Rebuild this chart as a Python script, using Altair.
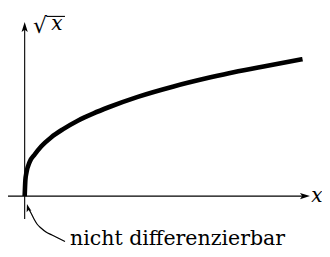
import altair as alt
import pandas as pd

# curve values (x units, y units)
curve_x = [0.0, 0.025, 0.06, 0.18, 0.36, 0.60, 0.96, 1.37, 1.91, 2.48, 3.02, 4.07, 5.36, 6.69, 7.52, 8.74, 10.0]
curve_y = [0.0, 0.37, 0.53, 0.79, 0.96, 1.15, 1.36, 1.54, 1.74, 1.91, 2.05, 2.29, 2.53, 2.74, 2.86, 3.01, 3.16]

# annotation pointer path
pointer_x = [0.120, 0.228, 0.336, 0.444, 0.587, 0.767, 0.983, 1.199, 1.451]
pointer_y = [-0.274, -0.389, -0.528, -0.643, -0.735, -0.827, -0.897, -0.966, -1.045]

# axes extents
xaxis_from, xaxis_to = -0.6, 10.087
yaxis_from, yaxis_to = -0.527, 3.902

# arrow heads
head_x = [10.087, 0.0, 0.120]
head_y = [0.0, 3.902, -0.271]
head_angle = [0, 270, 255]
head_size = [100, 100, 64]

# labels
label_text = ["x", "nicht differenzierbar"]
label_x = [10.52, 1.631]
label_y = [-0.135, -1.127]
label_align = ["center", "left"]
label_italic = ["italic", "normal"]
label_size = [20, 20.5]

XDOM = [-0.6, 10.7]
YDOM = [-1.22, 4.34]
FONT = "DejaVu Serif"

def X(field):
    return alt.X(field, type="quantitative", scale=alt.Scale(domain=XDOM, nice=False, zero=False), axis=None)

def Y(field):
    return alt.Y(field, type="quantitative", scale=alt.Scale(domain=YDOM, nice=False, zero=False), axis=None)

curve_df = pd.DataFrame({"x": curve_x, "y": curve_y})
pointer_df = pd.DataFrame({"x": pointer_x, "y": pointer_y})
axes_df = pd.DataFrame({
    "x": [xaxis_from, 0.0], "x2": [xaxis_to, 0.0],
    "y": [0.0, yaxis_from], "y2": [0.0, yaxis_to],
})
heads_df = pd.DataFrame({"x": head_x, "y": head_y, "angle": head_angle, "size": head_size})

ARROW = "M1,0 L-1,-0.62 L-0.55,0 L-1,0.62 Z"

curve = alt.Chart(curve_df).mark_line(
    color="black", strokeWidth=4.6, interpolate="monotone", strokeCap="butt"
).encode(x=X("x"), y=Y("y"), order="x:Q")

xaxis = alt.Chart(axes_df.iloc[[0]]).mark_rule(color="black", strokeWidth=1.1).encode(
    x=X("x"), x2="x2", y=Y("y"))
yaxis = alt.Chart(axes_df.iloc[[1]]).mark_rule(color="black", strokeWidth=1.1).encode(
    x=X("x"), y=Y("y"), y2="y2")

heads = alt.Chart(heads_df).mark_point(
    shape=ARROW, filled=True, color="black", opacity=1, strokeWidth=0
).encode(
    x=X("x"), y=Y("y"),
    angle=alt.Angle("angle:Q", scale=None),
    size=alt.Size("size:Q", scale=None, legend=None),
)

pointer = alt.Chart(pointer_df).mark_line(
    color="black", strokeWidth=1.2, interpolate="monotone"
).encode(x=X("x"), y=Y("y"), order=alt.Order("y:Q", sort="descending"))

labels = []
for t, lx, ly, al, st, fs in zip(label_text, label_x, label_y, label_align, label_italic, label_size):
    df = pd.DataFrame({"x": [lx], "y": [ly], "t": [t]})
    labels.append(alt.Chart(df).mark_text(
        font=FONT, fontSize=fs, fontStyle=st,
        align=al, baseline="alphabetic", color="black"
    ).encode(x=X("x"), y=Y("y"), text="t:N"))

# sqrt label
sqrt_df = pd.DataFrame({"x": [0.551], "y": [3.763], "t": ["\u221a"]})
sqrt_sign = alt.Chart(sqrt_df).mark_text(
    font=FONT, fontSize=22, align="center", baseline="alphabetic", color="black"
).encode(x=X("x"), y=Y("y"), text="t:N")
xs_df = pd.DataFrame({"x": [1.163], "y": [3.832], "t": ["x"]})
x_in_sqrt = alt.Chart(xs_df).mark_text(
    font=FONT, fontSize=20, fontStyle="italic", align="center", baseline="alphabetic", color="black"
).encode(x=X("x"), y=Y("y"), text="t:N")
vinc_df = pd.DataFrame({"x": [0.78], "x2": [1.45], "y": [4.146]})
vinculum = alt.Chart(vinc_df).mark_rule(color="black", strokeWidth=1.1).encode(
    x=X("x"), x2="x2", y=Y("y"))

chart = alt.layer(
    xaxis, yaxis, curve, pointer, heads, sqrt_sign, x_in_sqrt, vinculum, *labels
).properties(
    width=314, height=241, padding=0,
    autosize=alt.AutoSizeParams(type="none"),
).configure_view(stroke=None)

chart.save("out.html", embed_options={"renderer": "svg", "actions": False})
